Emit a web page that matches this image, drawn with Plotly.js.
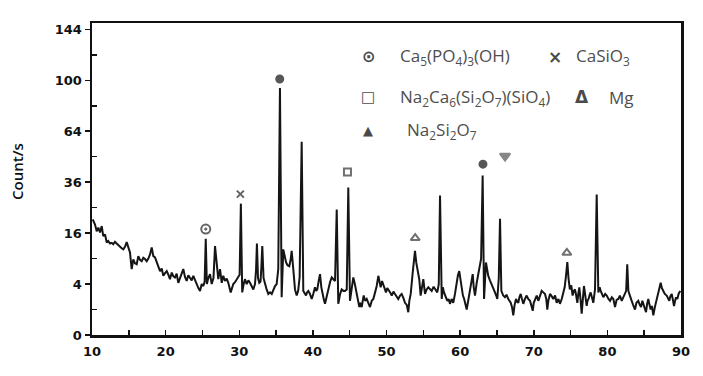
<!DOCTYPE html>
<html>
<head>
<meta charset="utf-8">
<script src="https://cdn.plot.ly/plotly-3.0.1.min.js"></script>
<style>html,body{margin:0;padding:0;background:#fff;}#chart{width:703px;height:376px;}</style>
</head>
<body>
<div id="chart"></div>
<script>
// 2-theta (degrees)
const twoTheta = [
 10.1,10.41,10.64,10.86,11.09,11.32,11.53,11.77,12.0,12.21,
 12.45,12.68,12.89,13.12,13.35,13.58,13.80,14.03,14.25,14.48,
 14.71,14.93,15.16,15.39,15.61,15.84,16.07,16.29,16.52,16.75,
 16.97,17.2,17.43,17.65,17.88,18.11,18.33,18.56,18.79,19.01,
 19.24,19.47,19.69,19.92,20.15,20.37,20.59,20.83,21.05,21.27,
 21.5,21.72,21.95,22.18,22.40,22.63,22.86,23.08,23.31,23.54,
 23.76,24.0,24.22,24.45,24.67,24.90,25.12,25.3,25.45,25.6,
 25.8,26.03,26.26,26.5,26.71,26.94,27.15,27.39,27.62,27.83,
 28.06,28.3,28.51,28.84,29.0,29.19,29.42,29.65,29.9,30.05,
 30.22,30.4,30.6,30.78,31.01,31.24,31.46,31.7,31.91,32.14,
 32.28,32.40,32.55,32.72,32.89,33.0,33.13,33.3,33.50,33.72,
 33.95,34.18,34.41,34.64,34.86,35.08,35.30,35.53,35.76,35.98,
 36.15,36.35,36.55,36.80,37.0,37.12,37.34,37.57,37.80,38.0,
 38.2,38.48,38.70,38.9,39.07,39.2,39.38,39.6,39.84,40.05,
 40.29,40.45,40.60,40.80,40.97,41.15,41.33,41.50,41.65,41.88,
 42.10,42.33,42.56,42.8,43.01,43.24,43.45,43.7,43.91,44.15,
 44.36,44.6,44.81,45.04,45.25,45.49,45.7,45.95,46.15,46.31,
 46.45,46.63,46.9,47.1,47.31,47.55,47.76,48.0,48.21,48.45,
 48.67,48.89,49.05,49.21,49.4,49.57,49.75,49.93,50.1,50.25,
 50.5,50.71,50.95,51.15,51.4,51.60,51.85,52.06,52.3,52.51,
 52.75,52.96,53.1,53.29,53.56,53.87,54.05,54.18,54.3,54.45,
 54.64,54.82,55.0,55.23,55.45,55.68,55.9,56.14,56.4,56.59,
 56.9,57.1,57.27,57.50,57.65,57.81,58.05,58.26,58.45,58.62,
 58.85,59.07,59.3,59.53,59.7,59.88,60.05,60.21,60.38,60.55,
 60.72,60.89,61.05,61.25,61.45,61.71,61.85,62.02,62.25,62.45,
 62.61,62.85,63.06,63.25,63.51,63.65,63.82,64.05,64.29,64.5,
 64.73,64.9,65.05,65.25,65.42,65.6,65.85,66.09,66.3,66.54,
 66.7,66.87,67.05,67.22,67.4,67.59,67.75,67.90,68.05,68.23,
 68.4,68.58,68.8,69.04,69.25,69.49,69.65,69.86,70.0,70.17,
 70.4,70.62,70.85,71.08,71.3,71.53,71.7,71.84,72.0,72.21,
 72.45,72.66,72.9,73.11,73.35,73.56,73.8,74.01,74.2,74.38,
 74.56,74.72,74.90,75.1,75.28,75.45,75.60,75.75,75.92,76.05,
 76.19,76.35,76.51,76.65,76.82,77.0,77.19,77.3,77.44,77.6,
 77.73,77.9,78.09,78.32,78.55,78.77,78.95,79.09,79.25,79.45,
 79.7,79.91,80.15,80.36,80.6,80.81,81.04,81.25,81.49,81.7,
 81.95,82.2,82.39,82.55,82.70,82.85,82.98,83.15,83.30,83.5,
 83.75,83.95,84.20,84.4,84.57,84.75,84.88,85.05,85.25,85.4,
 85.56,85.72,85.88,86.05,86.24,86.45,86.60,86.75,86.92,87.1,
 87.24,87.4,87.59,87.8,88.06,88.25,88.41,88.55,88.74,88.9,
 89.05,89.2,89.33,89.5,89.67,89.9
];
// intensity (counts/s)
const counts = [
 20.6,18.8,16.6,17.8,16.2,18.3,15.1,15.6,13.2,13.6,
 12.9,13.1,12.7,13.4,12.9,12.4,12.2,11.6,11.3,12.0,
 13.3,11.9,10.5,6.7,8.8,7.9,7.7,9.6,8.7,8.4,
 9.2,8.9,8.4,9.0,10.0,11.8,9.6,9.3,8.2,7.2,
 6.3,6.8,5.4,5.9,6.3,5.6,4.8,6.0,5.3,5.1,
 5.8,4.2,5.0,5.7,6.7,5.2,4.5,5.5,5.1,4.6,
 5.4,4.6,4.0,3.4,3.0,4.0,3.7,4.4,14.3,4.0,
 5.0,5.7,4.0,5.0,12.2,8.1,4.8,6.7,4.2,5.4,
 4.5,4.9,4.2,2.8,3.5,4.0,4.3,4.8,5.4,5.6,
 26.6,2.8,4.0,4.8,4.0,4.6,4.2,3.6,3.2,4.0,
 6.5,12.9,5.0,4.2,4.4,7.0,12.2,5.0,4.0,3.2,
 2.6,2.8,2.6,3.2,3.7,4.0,6.7,94,2.2,11.3,
 9.5,8.2,7.5,7.3,9.0,10.9,6.7,3.2,2.4,3.0,
 5.1,57.6,3.0,2.6,2.4,2.8,3.0,2.6,2.0,2.6,
 3.5,3.0,3.2,4.6,5.7,3.5,2.4,1.9,1.5,2.4,
 3.5,4.3,5.1,4.8,4.5,24.3,1.5,2.6,3.2,3.0,
 3.0,3.2,33.5,1.8,3.5,5.1,4.0,2.8,1.8,1.2,
 1.6,1.2,2.4,1.8,2.0,1.6,1.2,1.8,2.0,2.8,
 3.7,5.4,4.2,3.5,4.5,4.0,3.4,2.8,3.4,3.2,
 2.8,2.4,2.9,2.6,2.3,2.0,2.4,2.6,2.1,1.6,
 1.4,0.8,1.8,2.6,6.0,10.9,8.0,6.7,5.5,4.8,
 2.4,3.6,4.8,2.6,3.2,3.5,3.2,3.0,3.6,3.3,
 2.8,4.0,30,2.0,3.5,2.8,2.2,1.8,2.0,1.5,
 2.0,1.6,2.6,4.2,5.5,6.3,4.5,3.2,2.4,2.0,
 1.3,1.0,1.6,2.6,4.0,5.7,3.5,2.4,4.2,5.5,
 7.3,9.0,39.2,2.0,8.1,6.5,5.4,4.6,4.0,3.3,
 2.8,2.4,2.0,5.0,20.8,3.0,2.4,2.2,2.5,2.0,
 1.8,1.6,1.2,0.6,1.4,2.0,1.7,1.6,2.2,2.6,
 2.0,1.5,2.0,2.4,2.0,1.8,1.4,0.9,1.6,2.0,
 2.4,1.8,2.4,3.0,2.8,2.6,2.0,1.0,1.9,2.6,
 2.3,2.0,2.4,1.6,2.0,1.5,2.0,2.6,3.5,5.4,
 8.2,5.0,3.2,3.8,2.4,3.0,3.2,2.5,1.6,2.6,
 3.5,2.0,0.7,1.8,3.7,2.4,1.3,1.8,2.0,2.5,
 2.8,2.2,1.6,3.2,30.4,2.8,3.5,3.0,2.6,2.2,
 2.6,2.4,2.0,1.8,2.2,2.0,1.2,1.9,2.0,2.4,
 1.8,2.2,2.6,3.0,7.7,3.0,2.6,2.0,1.8,1.4,
 1.0,1.6,1.8,1.4,1.2,1.8,1.5,1.2,0.8,1.5,
 2.0,1.4,1.0,1.3,0.6,1.2,1.6,2.0,2.8,3.2,
 4.2,3.4,3.0,2.6,2.4,2.0,1.8,2.3,2.6,1.9,
 1.3,1.8,2.2,2.0,2.6,3.0
];

// axis ticks (square-root intensity scale)
const yTickCounts = [0, 4, 16, 36, 64, 100, 144];
const yMinorCounts = [1, 9, 25, 49, 81, 121];
const xTickVals = [10, 20, 30, 40, 50, 60, 70, 80, 90];

// phase marks above peaks
const phaseX = [25.45, 30.15, 35.5, 44.7, 53.9, 63.1, 66.1, 74.5];
const phaseCounts = [17.3, 30.6, 101, 40.9, 14.5, 45, 49.4, 10.4];
const phaseSymbols = ['circle-open-dot', 'x-thin-open', 'circle', 'square-open', 'triangle-up-open', 'circle', 'triangle-down', 'triangle-up-open'];
const phaseSizes = [9, 7, 7, 7, 8, 7, 9, 8];

// key
const keySymbols = ['⊙', '×', '□', 'Δ', '▲'];
const keyLabels = ['Ca<sub>5</sub>(PO<sub>4</sub>)<sub>3</sub>(OH)', 'CaSiO<sub>3</sub>',
  'Na<sub>2</sub>Ca<sub>6</sub>(Si<sub>2</sub>O<sub>7</sub>)(SiO<sub>4</sub>)', 'Mg',
  'Na<sub>2</sub>Si<sub>2</sub>O<sub>7</sub>'];

const W = 703, H = 376, L = 92, R = 22, T = 23, B = 41;
const pw = W - L - R, ph = H - T - B;
const px = v => (v - L) / pw;
const py = v => (H - B - v) / ph;

const keyPos = [
  {sx: 368, tx: 398, y: 57, fs: 16}, {sx: 555, tx: 574, y: 57, fs: 17},
  {sx: 368, tx: 398, y: 97, fs: 15}, {sx: 582, tx: 607, y: 97, fs: 17},
  {sx: 368, tx: 405, y: 130, fs: 13}
];

const annotations = [];
keySymbols.forEach((s, i) => {
  const p = keyPos[i];
  annotations.push({xref: 'paper', yref: 'paper', x: px(p.sx), y: py(p.y), text: s,
    showarrow: false, xanchor: 'center', yanchor: 'middle',
    font: {family: 'DejaVu Sans', size: p.fs, color: '#4a4a4a', weight: 'bold'}});
  annotations.push({xref: 'paper', yref: 'paper', x: px(p.tx), y: py(p.y), text: keyLabels[i],
    showarrow: false, xanchor: 'left', yanchor: 'middle',
    font: {family: 'Open Sans', size: 17, color: '#4e4e4e'}});
});
annotations.push({xref: 'paper', yref: 'paper', x: px(17), y: py(172), text: 'Count/s',
  textangle: -90, showarrow: false, xanchor: 'center', yanchor: 'middle',
  font: {family: 'Open Sans', size: 15, color: '#111', weight: 600}});

const data = [
  {x: twoTheta, y: counts.map(Math.sqrt), type: 'scatter', mode: 'lines',
   line: {color: '#151515', width: 2}, hoverinfo: 'skip'},
  {x: phaseX, y: phaseCounts.map(Math.sqrt), type: 'scatter', mode: 'markers',
   marker: {symbol: phaseSymbols, size: phaseSizes, color: ['#222','#222','#111','#333','#333','#111','#555','#333'],
            line: {width: 2, color: ['#222','#222','#111','#333','#333','#111','#555','#333']}}, hoverinfo: 'skip'}
];

const layout = {
  width: W, height: H,
  margin: {l: L, r: R, t: T, b: B, pad: 0},
  paper_bgcolor: '#fff', plot_bgcolor: '#fff',
  showlegend: false,
  xaxis: {range: [10, 90], tickmode: 'array', tickvals: xTickVals, ticktext: xTickVals.map(String),
    ticks: 'inside', ticklen: 5, tickwidth: 1.5, tickcolor: '#111',
    minor: {dtick: 5, tick0: 10, ticks: 'inside', ticklen: 5, tickwidth: 1.5, tickcolor: '#111'},
    showline: true, linecolor: '#111', linewidth: 2.5, mirror: true, showgrid: false, zeroline: false,
    tickfont: {family: 'DejaVu Sans', size: 13, color: '#111', weight: 'bold'}, ticklabelstandoff: 3},
  yaxis: {range: [0, 12.25], tickmode: 'array', tickvals: yTickCounts.map(Math.sqrt),
    ticktext: yTickCounts.map(String),
    ticks: 'outside', ticklen: 5, tickwidth: 1.5, tickcolor: '#111',
    minor: {tickmode: 'array', tickvals: yMinorCounts.map(Math.sqrt), ticks: 'inside', ticklen: 5, tickwidth: 1.5, tickcolor: '#111'},
    showline: true, linecolor: '#111', linewidth: 2.5, mirror: true, showgrid: false, zeroline: false,
    tickfont: {family: 'DejaVu Sans', size: 13, color: '#111', weight: 'bold'}},
  annotations: annotations
};

Plotly.newPlot('chart', data, layout, {displayModeBar: false, staticPlot: true});
</script>
</body>
</html>
